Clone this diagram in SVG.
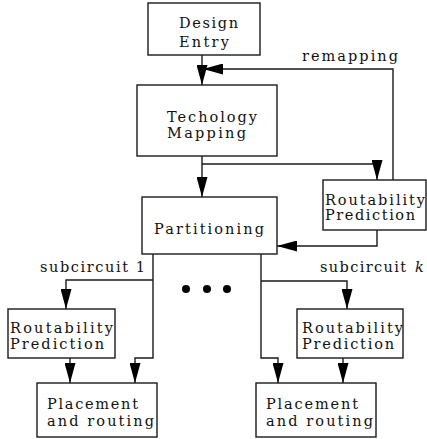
<svg xmlns="http://www.w3.org/2000/svg" width="427" height="439" viewBox="0 0 427 439">
  <style>
    .box { fill: #fff; stroke: #1a1a1a; stroke-width: 1.4; }
    .wire { fill: none; stroke: #1a1a1a; stroke-width: 1.4; marker-end: url(#head); }
  </style>
  <defs>
    <marker id="head" markerUnits="userSpaceOnUse" markerWidth="21" markerHeight="11" refX="20" refY="5.5" orient="auto">
      <path d="M0,0 L20,5.5 L0,11 z" fill="#000"/>
    </marker>
  </defs>
  <rect width="427" height="439" fill="#fff"/>

  <g id="connectors">
    <path class="wire" d="M202,55 V85"/>
    <path class="wire" d="M393,180 V69 H203"/>
    <path class="wire" d="M202,156 V197"/>
    <path class="wire" d="M202,164 H377 V180"/>
    <path class="wire" d="M377,230 V246 H277"/>
    <path class="wire" d="M153,280 H66 V309"/>
    <path class="wire" d="M153,254 V358 H135 V383"/>
    <path class="wire" d="M70,358 V383"/>
    <path class="wire" d="M261,281 H347 V309"/>
    <path class="wire" d="M261,254 V358 H278 V383"/>
    <path class="wire" d="M343,358 V383"/>
  </g>

  <g font-family="DejaVu Serif, Liberation Serif, serif" font-size="14.5" fill="#111">
    <g id="design-entry">
      <rect class="box" x="148" y="3" width="112" height="52"/>
      <text x="179" y="28" textLength="59" lengthAdjust="spacing">Design</text>
      <text x="179" y="47" textLength="50" lengthAdjust="spacing">Entry</text>
    </g>

    <g id="technology-mapping">
      <rect class="box" x="137" y="85" width="140" height="71"/>
      <text x="167" y="122" textLength="90" lengthAdjust="spacing">Techology</text>
      <text x="167" y="138" textLength="79" lengthAdjust="spacing">Mapping</text>
    </g>

    <g id="remapping-label">
      <text x="302" y="61" textLength="96" lengthAdjust="spacing">remapping</text>
    </g>

    <g id="routability-top">
      <rect class="box" x="323" y="180" width="103" height="50"/>
      <text x="325" y="205" textLength="100" lengthAdjust="spacing">Routability</text>
      <text x="325" y="220" textLength="90" lengthAdjust="spacing">Prediction</text>
    </g>

    <g id="partitioning">
      <rect class="box" x="142" y="197" width="135" height="57"/>
      <text x="154" y="234" textLength="110" lengthAdjust="spacing">Partitioning</text>
    </g>

    <g id="subcircuit-labels">
      <text x="40" y="272" textLength="105" lengthAdjust="spacing">subcircuit 1</text>
      <text x="320" y="272" textLength="86" lengthAdjust="spacing">subcircuit</text>
      <text x="415" y="272" font-style="italic">k</text>
    </g>

    <g id="ellipsis">
      <circle cx="186" cy="289" r="4" fill="#000"/>
      <circle cx="207" cy="289" r="4" fill="#000"/>
      <circle cx="227" cy="289" r="4" fill="#000"/>
    </g>

    <g id="routability-left">
      <rect class="box" x="8" y="309" width="107" height="49"/>
      <text x="10" y="333" textLength="103" lengthAdjust="spacing">Routability</text>
      <text x="10" y="349" textLength="94" lengthAdjust="spacing">Prediction</text>
    </g>

    <g id="placement-left">
      <rect class="box" x="37" y="383" width="120" height="54"/>
      <text x="47" y="409" textLength="91" lengthAdjust="spacing">Placement</text>
      <text x="47" y="426" textLength="107" lengthAdjust="spacing">and routing</text>
    </g>

    <g id="routability-right">
      <rect class="box" x="297" y="309" width="106" height="49"/>
      <text x="302" y="333" textLength="101" lengthAdjust="spacing">Routability</text>
      <text x="302" y="349" textLength="92" lengthAdjust="spacing">Prediction</text>
    </g>

    <g id="placement-right">
      <rect class="box" x="256" y="383" width="120" height="54"/>
      <text x="266" y="409" textLength="92" lengthAdjust="spacing">Placement</text>
      <text x="266" y="426" textLength="107" lengthAdjust="spacing">and routing</text>
    </g>
  </g>
</svg>
